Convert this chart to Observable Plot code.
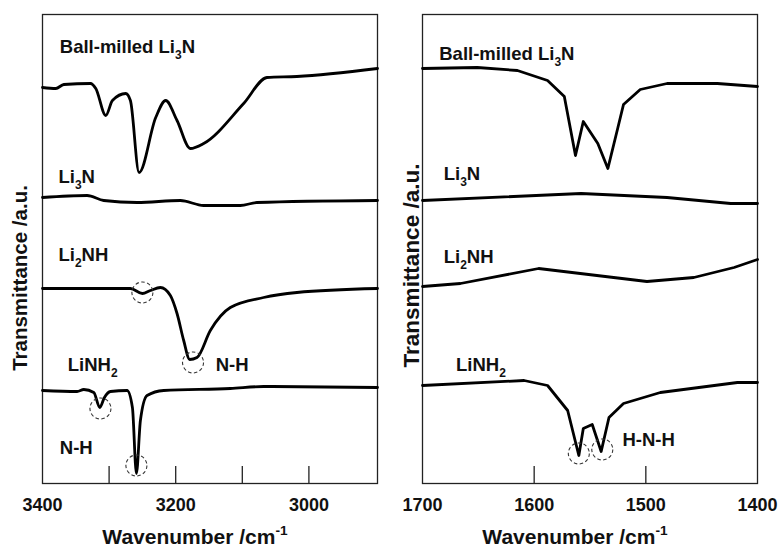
<!DOCTYPE html>
<html><head><meta charset="utf-8">
<script src="https://cdn.jsdelivr.net/npm/d3@7"></script>
<script src="https://cdn.jsdelivr.net/npm/@observablehq/plot@0.6"></script>
<style>
body{margin:0;background:#fff;}
#wrap{display:flex;width:781px;height:550px;overflow:hidden;}
</style></head><body><div id="wrap"></div>
<script>
// ---------- Left panel: 3400–2900 cm-1 ----------
const leftBall_wn = [3400,3380,3368,3328,3320,3305,3295,3275,3268,3255,3230,3215,3198,3178,3158,3098,3063,3018,2897];
const leftBall_T  = [39.6,39.5,39.9,40.0,39.5,36.8,38.3,39.0,38.3,31.1,36.6,38.3,36.3,33.5,34.0,38.0,40.6,40.7,41.5];
const leftLi3N_wn = [3400,3333,3308,3258,3193,3158,3103,3078,2897];
const leftLi3N_T  = [28.6,28.8,28.3,28.1,28.3,27.8,27.8,28.1,28.3];
const leftLi2NH_wn = [3400,3268,3250,3238,3223,3208,3198,3188,3179,3168,3148,3118,3068,3018,2897];
const leftLi2NH_T  = [19.5,19.5,19.0,19.3,19.6,18.8,17.0,14.3,12.4,12.6,15.3,17.6,18.6,19.1,19.5];
const leftLiNH2_wn = [3400,3348,3338,3323,3314,3307,3298,3273,3265,3259,3253,3243,3218,3118,3068,2897];
const leftLiNH2_T  = [9.3,9.2,9.4,9.1,7.6,8.6,9.2,9.3,7.6,1.0,6.3,8.8,9.3,9.5,9.7,9.6];
const leftCircle_wn = [3250,3174,3313,3259];
const leftCircle_T  = [19.1,12.1,7.5,1.8];
const leftLabel_text = ["Ball-milled Li_{3}N","Li_{3}N","Li_{2}NH","LiNH_{2}","N-H","N-H"];
const leftLabel_wn   = [3374,3376,3376,3362,3140,3374];
const leftLabel_T    = [43.6,30.6,22.8,11.8,11.8,3.5];
const leftTicks = [3300,3200,3100,3000];
const leftTickLabels = [3400,3200,3000];

// ---------- Right panel: 1700–1400 cm-1 ----------
const rightBall_wn = [1700,1651,1615,1588,1573,1563,1556,1543,1534,1525,1520,1505,1481,1436,1400];
const rightBall_T  = [41.5,41.6,41.3,40.3,38.7,32.8,36.2,34.0,31.5,35.6,37.9,39.4,40.0,40.0,39.7];
const rightLi3N_wn = [1700,1558,1481,1424,1400];
const rightLi3N_T  = [28.3,29.0,28.6,28.0,28.0];
const rightLi2NH_wn = [1700,1666,1596,1499,1457,1421,1400];
const rightLi2NH_T  = [19.7,20.0,21.5,20.2,20.6,21.6,22.4];
const rightLiNH2_wn = [1700,1609,1588,1570,1560,1556,1548,1540,1533,1520,1487,1418,1400];
const rightLiNH2_T  = [9.8,10.3,9.8,7.3,2.8,5.5,5.9,3.2,6.6,8.0,9.1,10.1,10.1];
const rightCircle_wn = [1560,1539];
const rightCircle_T  = [3.0,3.4];
const rightLabel_text = ["Ball-milled Li_{3}N","Li_{3}N","Li_{2}NH","LiNH_{2}","H-N-H"];
const rightLabel_wn   = [1685,1681,1681,1670,1521];
const rightLabel_T    = [42.9,30.9,22.6,11.8,4.3];
const rightTicks = [1600,1500];
const rightTickLabels = [1700,1600,1500,1400];

const xTitle = "Wavenumber /cm^{-1}";
const yTitle = "Transmittance /a.u.";

const zip = (wn, T, extra = {}) => wn.map((w, i) => ({wn: w, T: T[i], ...Object.fromEntries(Object.entries(extra).map(([k, v]) => [k, v[i]]))}));

const FONT = "'Liberation Sans', Arial, Helvetica, sans-serif";

function panel({width, marginLeft, marginRight, domain, series, curve, circles, labels, ticks, tickLabels, yTitleDx, yTitleDy, yTitleSize}) {
  return Plot.plot({
    width, height: 550,
    marginTop: 14, marginBottom: 67, marginLeft, marginRight,
    style: {fontFamily: FONT, background: "white", overflow: "visible"},
    x: {domain, axis: null},
    y: {domain: [0, 46.9], axis: null},
    marks: [
      Plot.frame({stroke: "#222", strokeWidth: 1.3}),
      Plot.ruleX(ticks, {x: d => d, y1: 0, y2: 1.7, stroke: "#222", strokeWidth: 1.3}),
      ...series.map(s => Plot.line(s, {x: "wn", y: "T", stroke: "#000", strokeWidth: 2.8, curve, strokeLinejoin: "round"})),
      Plot.dot(circles, {x: "wn", y: "T", r: 10.5, stroke: "#333", strokeWidth: 1.1, strokeDasharray: "3.5,2.5", fill: "none"}),
      Plot.text(labels, {x: "wn", y: "T", text: "text", textAnchor: "start", lineAnchor: "middle", fontSize: 18.5, fontWeight: "bold", fill: "#111"}),
      Plot.text(tickLabels, {x: d => d, frameAnchor: "bottom", dy: 22, text: d => String(d), textAnchor: "middle", lineAnchor: "middle", fontSize: 18, fontWeight: "bold", fill: "#111"}),
      Plot.text([xTitle], {frameAnchor: "bottom", dx: -15, dy: 54, textAnchor: "middle", lineAnchor: "middle", fontSize: 21, fontWeight: "bold", fill: "#111"}),
      Plot.text([yTitle], {frameAnchor: "left", dx: yTitleDx, dy: yTitleDy, rotate: -90, textAnchor: "middle", lineAnchor: "middle", fontSize: yTitleSize, fontWeight: "bold", fill: "#111"})
    ]
  });
}

function richify(svg) {
  d3.select(svg).selectAll("text").each(function() {
    const s = this.textContent;
    if (!/[_^]\{/.test(s)) return;
    const fs = parseFloat(getComputedStyle(this).fontSize) || 16;
    const parts = s.split(/([_^]\{[^}]*\})/).filter(p => p);
    while (this.firstChild) this.removeChild(this.firstChild);
    let shift = 0;
    for (const p of parts) {
      const m = p.match(/^([_^])\{([^}]*)\}$/);
      const ts = document.createElementNS("http://www.w3.org/2000/svg", "tspan");
      let target = 0;
      if (m) {
        ts.textContent = m[2];
        ts.setAttribute("font-size", (fs * 0.65).toFixed(1));
        target = m[1] === "_" ? fs * 0.28 : -fs * 0.42;
      } else ts.textContent = p;
      ts.setAttribute("dy", (target - shift).toFixed(2));
      shift = target;
      this.appendChild(ts);
    }
  });
}

const wrap = document.getElementById("wrap");
const left = panel({
  width: 390, marginLeft: 42, marginRight: 13, domain: [3400, 2897],
  series: [zip(leftBall_wn, leftBall_T), zip(leftLi3N_wn, leftLi3N_T), zip(leftLi2NH_wn, leftLi2NH_T), zip(leftLiNH2_wn, leftLiNH2_T)],
  curve: "monotone-x",
  circles: zip(leftCircle_wn, leftCircle_T),
  labels: zip(leftLabel_wn, leftLabel_T, {text: leftLabel_text}),
  ticks: leftTicks, tickLabels: leftTickLabels, yTitleDx: -22, yTitleDy: 29, yTitleSize: 20.5
});
const right = panel({
  width: 391, marginLeft: 32, marginRight: 24, domain: [1700, 1400],
  series: [zip(rightBall_wn, rightBall_T), zip(rightLi3N_wn, rightLi3N_T), zip(rightLi2NH_wn, rightLi2NH_T), zip(rightLiNH2_wn, rightLiNH2_T)],
  curve: "linear",
  circles: zip(rightCircle_wn, rightCircle_T),
  labels: zip(rightLabel_wn, rightLabel_T, {text: rightLabel_text}),
  ticks: rightTicks, tickLabels: rightTickLabels, yTitleDx: -10.5, yTitleDy: 16.5, yTitleSize: 22.5
});
wrap.appendChild(left);
wrap.appendChild(right);
richify(left);
richify(right);
</script></body></html>
